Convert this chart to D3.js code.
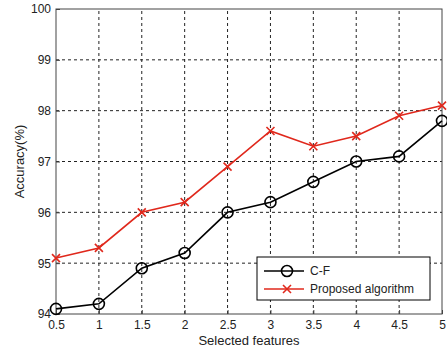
<!DOCTYPE html>
<html>
<head>
<meta charset="utf-8">
<script src="https://cdn.jsdelivr.net/npm/d3@7"></script>
<style>
  body { margin: 0; background: #fff; }
  svg text { font-family: "Liberation Sans", Arial, sans-serif; fill: #222; }
</style>
</head>
<body>
<div id="chart"></div>
<script>
const features = [0.5, 1, 1.5, 2, 2.5, 3, 3.5, 4, 4.5, 5];
const cfValues = [94.1, 94.2, 94.9, 95.2, 96.0, 96.2, 96.6, 97.0, 97.1, 97.8];
const proposedValues = [95.1, 95.3, 96.0, 96.2, 96.9, 97.6, 97.3, 97.5, 97.9, 98.1];
const xTicks = [0.5, 1, 1.5, 2, 2.5, 3, 3.5, 4, 4.5, 5];
const yTicks = [94, 95, 96, 97, 98, 99, 100];
const seriesNames = ["C-F", "Proposed algorithm"];

const width = 447, height = 351;
const margin = {top: 9, right: 5, bottom: 37, left: 56};

const svg = d3.select("#chart").append("svg")
  .attr("width", width)
  .attr("height", height);

const x = d3.scaleLinear()
  .domain([0.5, 5])
  .range([margin.left, width - margin.right]);

const y = d3.scaleLinear()
  .domain([94, 100])
  .range([height - margin.bottom, margin.top]);

// grid
svg.append("g")
  .selectAll("line")
  .data(xTicks.slice(1, -1))
  .join("line")
  .attr("x1", d => x(d)).attr("x2", d => x(d))
  .attr("y1", y(94)).attr("y2", y(100))
  .attr("stroke", "#222").attr("stroke-dasharray", "3,3").attr("stroke-width", 1);

svg.append("g")
  .selectAll("line")
  .data(yTicks.slice(1, -1))
  .join("line")
  .attr("x1", x(0.5)).attr("x2", x(5))
  .attr("y1", d => y(d)).attr("y2", d => y(d))
  .attr("stroke", "#222").attr("stroke-dasharray", "3,3").attr("stroke-width", 1);

// axes
const xAxis = g => g
  .attr("transform", `translate(0, ${y(94)})`)
  .call(d3.axisBottom(x).tickValues(xTicks).tickSize(-4).tickPadding(6).tickFormat(d3.format("")))
  .call(g => g.select(".domain").remove())
  .call(g => g.selectAll("text").style("font-size", "12px"));

const yAxis = g => g
  .attr("transform", `translate(${x(0.5)}, 0)`)
  .call(d3.axisLeft(y).tickValues(yTicks).tickSize(-4).tickPadding(5).tickFormat(d3.format("d")))
  .call(g => g.select(".domain").remove())
  .call(g => g.selectAll("text").style("font-size", "12px"));

svg.append("g").call(xAxis);
svg.append("g").call(yAxis);
svg.selectAll(".tick line").attr("stroke", "#444");

// frame
svg.append("rect")
  .attr("x", x(0.5)).attr("y", y(100))
  .attr("width", x(5) - x(0.5)).attr("height", y(94) - y(100))
  .attr("fill", "none").attr("stroke", "#444").attr("stroke-width", 1);

// lines
const line = d3.line().x((d, i) => x(features[i])).y(d => y(d));

svg.append("path").datum(cfValues)
  .attr("d", line).attr("fill", "none")
  .attr("stroke", "#000").attr("stroke-width", 1.6);

svg.append("path").datum(proposedValues)
  .attr("d", line).attr("fill", "none")
  .attr("stroke", "#e0281c").attr("stroke-width", 1.6);

svg.append("g")
  .selectAll("circle")
  .data(cfValues)
  .join("circle")
  .attr("cx", (d, i) => x(features[i])).attr("cy", d => y(d))
  .attr("r", 5.5).attr("fill", "none")
  .attr("stroke", "#000").attr("stroke-width", 1.6);

const cross = (g, cx, cy, s) => g.append("path")
  .attr("d", `M${cx - s},${cy - s}L${cx + s},${cy + s}M${cx - s},${cy + s}L${cx + s},${cy - s}`)
  .attr("stroke", "#e0281c").attr("stroke-width", 1.6).attr("fill", "none");

const crosses = svg.append("g");
proposedValues.forEach((d, i) => cross(crosses, x(features[i]), y(d), 4));

// labels
svg.append("text")
  .attr("x", (x(0.5) + x(5)) / 2).attr("y", 345)
  .attr("text-anchor", "middle").style("font-size", "13px")
  .text("Selected features");

svg.append("text")
  .attr("transform", `translate(24, ${(y(94) + y(100)) / 2}) rotate(-90)`)
  .attr("text-anchor", "middle").style("font-size", "13px")
  .text("Accuracy(%)");

// legend
const legend = svg.append("g");
legend.append("rect")
  .attr("x", 257).attr("y", 257).attr("width", 173).attr("height", 43)
  .attr("fill", "#fff").attr("stroke", "#000").attr("stroke-width", 1);

const rowsY = [271, 289];
legend.append("line").attr("x1", 264).attr("x2", 304).attr("y1", rowsY[0]).attr("y2", rowsY[0])
  .attr("stroke", "#000").attr("stroke-width", 1.6);
legend.append("circle").attr("cx", 287).attr("cy", rowsY[0]).attr("r", 5.5)
  .attr("fill", "none").attr("stroke", "#000").attr("stroke-width", 1.6);
legend.append("line").attr("x1", 264).attr("x2", 304).attr("y1", rowsY[1]).attr("y2", rowsY[1])
  .attr("stroke", "#e0281c").attr("stroke-width", 1.6);
cross(legend, 287, rowsY[1], 4);

legend.selectAll("text")
  .data(seriesNames)
  .join("text")
  .attr("x", 310).attr("y", (d, i) => rowsY[i] + 4)
  .style("font-size", "12px")
  .text(d => d);
</script>
</body>
</html>
